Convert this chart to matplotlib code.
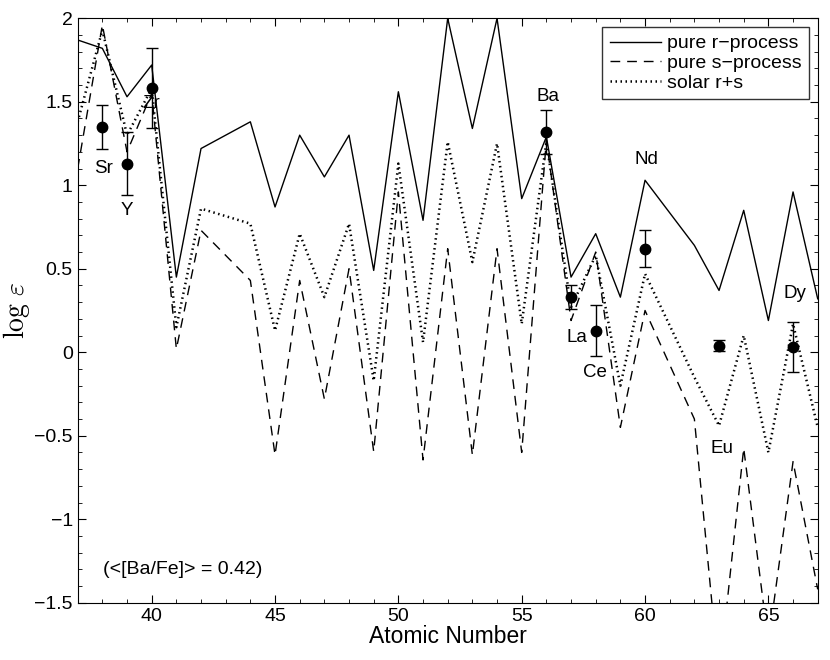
import matplotlib
matplotlib.use("Agg")
import matplotlib.pyplot as plt
from matplotlib.ticker import MultipleLocator

plt.rcParams['font.family'] = ['Liberation Sans', 'DejaVu Sans']
plt.rcParams['mathtext.fontset'] = 'cm'

# Atomic numbers (Tc=43 and Pm=61 absent)
Z = [37, 38, 39, 40, 41, 42, 44, 45, 46, 47, 48, 49, 50, 51, 52, 53, 54, 55,
     56, 57, 58, 59, 60, 62, 63, 64, 65, 66, 67]
pure_r = [1.87, 1.82, 1.53, 1.72, 0.45, 1.22, 1.38, 0.87, 1.30, 1.05, 1.30, 0.49,
          1.56, 0.79, 2.00, 1.34, 2.00, 0.92, 1.29, 0.45, 0.71, 0.33, 1.03, 0.64,
          0.37, 0.85, 0.19, 0.96, 0.32]
pure_s = [1.10, 1.96, 1.20, 1.55, 0.02, 0.73, 0.43, -0.615, 0.43, -0.28, 0.50, -0.595,
          0.96, -0.645, 0.62, -0.615, 0.62, -0.60, 1.27, 0.19, 0.60, -0.45, 0.25, -0.40,
          -1.95, -0.575, -1.74, -0.655, -1.42]
solar_rs = [1.38, 1.93, 1.30, 1.58, 0.15, 0.86, 0.77, 0.13, 0.71, 0.33, 0.77, -0.17,
            1.13, 0.06, 1.26, 0.54, 1.25, 0.17, 1.26, 0.27, 0.58, -0.20, 0.47, -0.15,
            -0.44, 0.10, -0.60, 0.17, -0.45]

# Observed abundances
obs_el = ['Sr', 'Y', 'Zr', 'Ba', 'La', 'Ce', 'Nd', 'Eu', 'Dy']
obs_Z = [38, 39, 40, 56, 57, 58, 60, 63, 66]
obs_val = [1.35, 1.13, 1.585, 1.32, 0.33, 0.13, 0.62, 0.04, 0.03]
obs_err = [0.13, 0.19, 0.24, 0.13, 0.07, 0.15, 0.11, 0.035, 0.15]

# label positions (data coords)
lab_x = [38.05, 39.0, 40.0, 56.07, 57.23, 57.97, 60.07, 63.1, 66.08]
lab_y = [1.10, 0.85, 1.49, 1.53, 0.09, -0.12, 1.155, -0.575, 0.35]

fig = plt.figure(figsize=(8.3, 6.6), dpi=100)
ax = fig.add_axes([0.0936, 0.0868, 0.8916, 0.8855])

ax.plot(Z, pure_r, color='black', lw=1.0, label='pure r\u2212process')
ax.plot(Z, pure_s, color='black', lw=1.0, dashes=(7, 5), label='pure s\u2212process')
ax.plot(Z, solar_rs, color='black', lw=1.8, linestyle=(0, (0.6, 1.4)), label='solar r+s')

ax.errorbar(obs_Z, obs_val, yerr=obs_err, fmt='o', color='black', ms=7.5,
            elinewidth=1.0, capsize=4.5, capthick=1.0, zorder=5)

for el, x, y in zip(obs_el, lab_x, lab_y):
    ax.text(x, y, el, fontsize=13.5, ha='center', va='center')

ax.text(38.04, -1.30, '(<[Ba/Fe]> = 0.42)', fontsize=14, ha='left', va='center')

ax.set_xlim(37, 67)
ax.set_ylim(-1.5, 2)
ax.xaxis.set_major_locator(MultipleLocator(5))
ax.xaxis.set_minor_locator(MultipleLocator(1))
ax.yaxis.set_major_locator(MultipleLocator(0.5))
ax.yaxis.set_minor_locator(MultipleLocator(0.1))
ax.tick_params(which='both', direction='in', top=True, right=True, labelsize=14)
ax.tick_params(which='major', length=6)
ax.tick_params(which='minor', length=3)
ax.set_yticks([-1.5, -1, -0.5, 0, 0.5, 1, 1.5, 2])
ax.set_yticklabels(['\u22121.5', '\u22121', '\u22120.5', '0', '0.5', '1', '1.5', '2'])
ax.set_xlabel('Atomic Number', fontsize=16.5, labelpad=0)
ax.set_ylabel(r'$\log\,\varepsilon$', fontsize=20, labelpad=2)

leg = ax.legend(loc='upper right', fontsize=14, handlelength=2.6, frameon=True,
                fancybox=False, edgecolor='black', borderaxespad=0.45,
                borderpad=0.4, labelspacing=0.1, handletextpad=0.3)
leg.get_frame().set_linewidth(1.0)

fig.savefig('out.png', dpi=100)
